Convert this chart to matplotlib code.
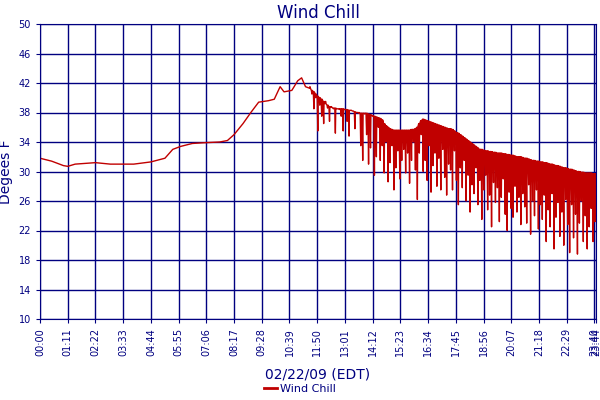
import matplotlib
matplotlib.use("Agg")
import matplotlib.pyplot as plt
from matplotlib.lines import Line2D

# smooth part (minutes since midnight, deg F)
t_smooth = [0, 30, 60, 71, 90, 142, 180, 240, 284, 320, 340, 360, 390, 420, 460, 480, 497, 520,
            540, 560, 585, 600, 615, 625, 645, 660, 670, 680, 690]
v_smooth = [31.8, 31.4, 30.8, 30.7, 31.0, 31.2, 31.0, 31.0, 31.3, 31.8, 33.0, 33.4, 33.8, 33.9,
            34.0, 34.2, 35.0, 36.5, 38.0, 39.4, 39.6, 39.8, 41.5, 40.8, 41.0, 42.3, 42.7, 41.5, 41.3]

# spiky part: one spike every 5 minutes from 11:30
spike_start = 690
spike_step = 5
hi = [41.3,41.0,40.8,40.5,40.2,40.0,39.8,39.5,39.2,39.0,38.8,38.7,
      38.6,38.6,38.5,38.5,38.5,38.5,38.4,38.4,38.3,38.3,38.2,38.1,
      38.0,38.0,37.9,37.9,37.9,37.9,37.8,37.7,37.6,37.5,37.4,37.3,
      37.2,37.0,36.5,36.2,36.0,35.8,35.7,35.6,35.6,35.6,35.6,35.6,
      35.6,35.6,35.6,35.6,35.7,35.7,35.8,36.0,36.5,36.9,37.1,37.0,
      36.9,36.8,36.7,36.6,36.5,36.4,36.3,36.2,36.1,36.0,35.9,35.8,
      35.8,35.7,35.5,35.3,35.2,35.0,34.8,34.6,34.4,34.2,34.0,33.8,
      33.6,33.4,33.2,33.0,33.0,32.9,32.8,32.8,32.7,32.7,32.6,32.6,
      32.5,32.5,32.5,32.4,32.4,32.3,32.3,32.2,32.2,32.1,32.0,32.0,
      32.0,31.9,31.8,31.8,31.7,31.6,31.5,31.5,31.4,31.4,31.3,31.3,
      31.2,31.2,31.1,31.0,31.0,30.9,30.8,30.8,30.7,30.6,30.5,30.5,
      30.4,30.3,30.3,30.2,30.1,30.0,30.0,29.9,29.9,29.8,29.8,29.8,
      29.8,29.7,29.7]
lo = [41.5,40.5,38.5,40.0,35.5,39.0,37.5,36.5,39.5,38.6,36.8,38.8,
      38.5,35.2,38.5,38.4,37.5,35.5,38.4,36.8,34.8,38.3,38.2,35.8,
      38.0,37.9,33.5,31.5,37.8,35.0,31.0,33.2,37.5,29.5,32.0,36.0,
      31.5,33.5,29.8,34.0,28.6,31.2,33.5,27.5,30.5,32.8,29.0,31.5,
      33.0,29.8,32.5,28.4,31.5,34.0,30.2,26.2,32.5,35.0,30.0,31.5,
      28.8,33.5,27.2,30.8,32.5,28.0,31.8,27.5,33.0,29.2,26.8,31.0,
      30.2,27.5,32.8,28.8,25.5,30.5,27.8,31.5,26.0,29.5,24.5,28.2,
      27.0,30.5,25.5,28.8,23.5,27.5,29.5,24.8,26.8,22.5,28.5,25.8,
      27.8,23.2,26.5,29.0,24.2,22.0,27.2,25.0,23.8,28.0,24.5,26.5,
      22.8,27.0,25.2,23.0,28.2,21.5,26.0,24.0,27.5,22.2,25.5,23.5,
      26.8,20.5,24.8,22.5,27.0,19.5,23.8,25.8,21.2,24.5,20.0,26.2,
      22.8,19.0,25.5,21.0,24.2,18.8,23.0,26.0,20.5,24.0,19.5,22.5,
      25.0,20.5,23.2]

xtick_pos = [0, 71, 142, 213, 284, 355, 426, 497, 568, 639, 710, 781, 852, 923, 994,
             1065, 1136, 1207, 1278, 1349, 1420, 1424]
xtick_lab = ["00:00", "01:11", "02:22", "03:33", "04:44", "05:55", "07:06", "08:17", "09:28",
             "10:39", "11:50", "13:01", "14:12", "15:23", "16:34", "17:45", "18:56", "20:07",
             "21:18", "22:29", "23:40", "23:44"]
yticks = [10, 14, 18, 22, 26, 30, 34, 38, 42, 46, 50]

ts = list(t_smooth)
vs = list(v_smooth)
for i, (h, l) in enumerate(zip(hi, lo)):
    t = spike_start + spike_step * i
    ts += [t, t + 1.5, t + 2.5]
    vs += [h, l, h]

navy = "#000080"
red = "#C00000"
fig = plt.figure(figsize=(6, 4), dpi=100)
ax = fig.add_axes([40/600, 81/400, 556/600, 295/400])
ax.plot(ts, vs, color=red, lw=1.0)
ax.set_xlim(0, 1424)
ax.set_ylim(10, 50)
ax.set_xticks(xtick_pos)
ax.set_xticklabels(xtick_lab, rotation=90, fontsize=7, color=navy)
ax.set_yticks(yticks)
ax.set_yticklabels([str(y) for y in yticks], fontsize=7, color=navy)
ax.tick_params(length=3, color=navy)
ax.grid(True, color=navy, lw=1)
for s in ax.spines.values():
    s.set_color(navy)
ax.set_title("Wind Chill", color=navy, fontsize=12, pad=4)
ax.set_ylabel("Degees F", color=navy, fontsize=10, labelpad=4)
ax.set_xlabel("02/22/09 (EDT)", color=navy, fontsize=10, labelpad=8)
fig.legend([Line2D([], [], color=red, lw=2)], ["Wind Chill"], loc="lower center",
           bbox_to_anchor=(0.5, -0.01), frameon=False, fontsize=8, labelcolor=navy,
           handlelength=1.2, handletextpad=0.3)
fig.savefig("out.png", dpi=100)
